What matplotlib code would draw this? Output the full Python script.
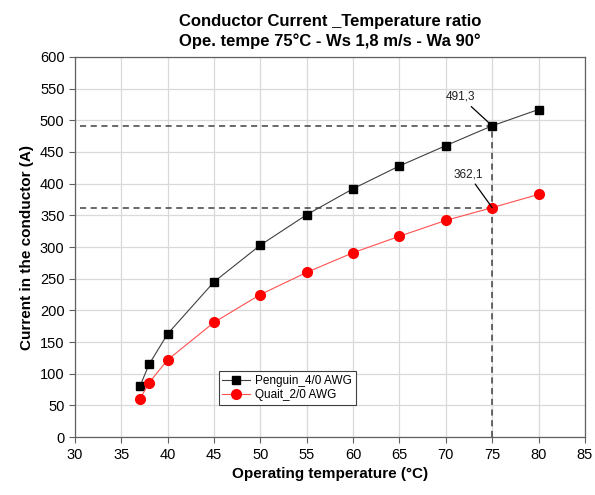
import matplotlib
matplotlib.use("Agg")
import matplotlib.pyplot as plt

temps = [37, 38, 40, 45, 50, 55, 60, 65, 70, 75, 80]
penguin = [80, 115, 163, 245, 303, 351, 392, 428, 460, 491.3, 517]
quait = [60, 86, 122, 181, 225, 260, 291, 317, 342, 362.1, 383]
xticks = list(range(30, 90, 5))
yticks = list(range(0, 650, 50))

plt.rcParams['font.family'] = ['Liberation Sans', 'DejaVu Sans']

fig = plt.figure(figsize=(5.95, 4.95), dpi=100)
ax = fig.add_axes([0.126, 0.117, 0.857, 0.768])

ax.grid(True, color='#d9d9d9', linewidth=0.9, zorder=0)
ax.set_axisbelow(True)

ax.plot(temps, penguin, color='#404040', linewidth=0.8, marker='s', markersize=6.2,
        markerfacecolor='black', markeredgecolor='black', label='Penguin_4/0 AWG', zorder=3)
ax.plot(temps, quait, color='#ff5050', linewidth=0.8, marker='o', markersize=7,
        markerfacecolor='#ff0000', markeredgecolor='#ff0000', label='Quait_2/0 AWG', zorder=3)

# reference dashed lines
ax.plot([30.5, 75], [penguin[9], penguin[9]], color='#404040', linestyle=(0, (4, 3)), linewidth=1.1, zorder=2)
ax.plot([30.5, 75], [quait[9], quait[9]], color='#404040', linestyle=(0, (4, 3)), linewidth=1.1, zorder=2)
ax.plot([75, 75], [0, penguin[9]], color='#404040', linestyle=(0, (4, 3)), linewidth=1.1, zorder=2)

ax.annotate('491,3', xy=(75, penguin[9]), xytext=(71.6, 537), fontsize=8.5,
            ha='center', va='center', color='#202020',
            arrowprops=dict(arrowstyle='-', color='black', lw=0.9, shrinkA=1, shrinkB=0))
ax.annotate('362,1', xy=(75, quait[9]), xytext=(72.4, 415), fontsize=8.5,
            ha='center', va='center', color='#202020',
            arrowprops=dict(arrowstyle='-', color='black', lw=0.9, shrinkA=1, shrinkB=0))

ax.set_xlim(30, 85)
ax.set_ylim(0, 600)
ax.set_xticks(xticks)
ax.set_yticks(yticks)
ax.tick_params(labelsize=10.5, direction='out', length=4, color='#606060')
for s in ax.spines.values():
    s.set_color('#606060')
    s.set_linewidth(0.9)

ax.set_xlabel('Operating temperature (°C)', fontsize=11, fontweight='bold')
ax.set_ylabel('Current in the conductor (A)', fontsize=11, fontweight='bold')
ax.set_title('Conductor Current _Temperature ratio\nOpe. tempe 75°C - Ws 1,8 m/s - Wa 90°',
             fontsize=12, fontweight='bold', pad=8, linespacing=1.35)

leg = ax.legend(loc='lower left', bbox_to_anchor=(0.27, 0.07), fontsize=8.5,
                frameon=True, fancybox=False, edgecolor='#404040', framealpha=1,
                handlelength=2.4, borderpad=0.3, labelspacing=0.2, handletextpad=0.4)
leg.get_frame().set_linewidth(0.8)

fig.savefig('out.png', dpi=100)
